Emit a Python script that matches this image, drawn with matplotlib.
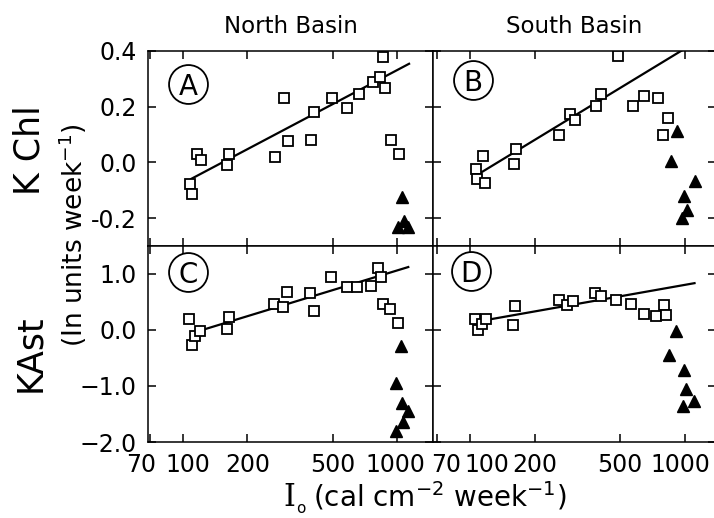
import matplotlib
matplotlib.use("Agg")
import matplotlib.pyplot as plt
import matplotlib.transforms as mtransforms
from matplotlib.ticker import NullLocator

plt.rcParams['font.family'] = ['DejaVu Sans']

# x axis: incident light, log scale
x_ticks = [70, 100, 200, 500, 1000]
x_tick_labels = ["70", "100", "200", "500", "1000"]

# K Chl, North Basin (A)
a_sq_x = [108, 110, 116, 121, 161, 164.5, 269, 297, 308, 395, 410, 495, 586, 664, 769, 833, 880, 864, 935, 1026]
a_sq_y = [-0.076, -0.114, 0.031, 0.008, -0.010, 0.031, 0.020, 0.233, 0.076, 0.082, 0.181, 0.233, 0.195, 0.246,
          0.290, 0.306, 0.267, 0.380, 0.082, 0.032]
a_tri_x = [1052, 1014, 1082, 1129]
a_tri_y = [-0.123, -0.233, -0.210, -0.233]
a_fit_x = [108, 1150]
a_fit_y = [-0.061, 0.356]

# K Chl, South Basin (B)
b_sq_x = [107, 108, 115, 117, 161, 164, 261, 293, 307, 388, 408, 488, 573, 645, 750, 835, 795]
b_sq_y = [-0.023, -0.058, 0.023, -0.073, -0.004, 0.049, 0.098, 0.175, 0.154, 0.201, 0.244, 0.382, 0.201, 0.238,
          0.231, 0.160, 0.098]
b_tri_x = [925, 861, 1119, 995, 1021, 972]
b_tri_y = [0.112, 0.005, -0.067, -0.120, -0.170, -0.201]
b_fit_x = [111, 985]
b_fit_y = [-0.039, 0.405]

# KAst, North Basin (C)
c_sq_x = [107, 110, 114, 120, 160, 164.5, 267, 292, 306, 392, 410, 491, 582, 652, 752, 816, 842, 864, 922, 1015]
c_sq_y = [0.198, -0.270, -0.114, -0.024, 0.018, 0.228, 0.456, 0.414, 0.679, 0.661, 0.348, 0.950, 0.762, 0.762,
          0.787, 1.110, 0.942, 0.468, 0.378, 0.126]
c_tri_x = [1040, 990, 1055, 1122, 1069, 985]
c_tri_y = [-0.294, -0.955, -1.30, -1.45, -1.65, -1.81]
c_fit_x = [120, 1141]
c_fit_y = [-0.012, 1.13]

# KAst, South Basin (D)
d_sq_x = [105.5, 108.6, 113.4, 119, 162, 159, 260, 284, 303, 384, 409, 478, 563, 645, 733, 802, 823]
d_sq_y = [0.198, 0.005, 0.108, 0.198, 0.427, 0.095, 0.540, 0.438, 0.517, 0.667, 0.607, 0.540, 0.468, 0.288,
          0.258, 0.438, 0.276]
d_tri_x = [912, 849, 995, 1014, 1109, 978]
d_tri_y = [-0.012, -0.445, -0.72, -1.05, -1.26, -1.36]
d_fit_x = [119.6, 1125]
d_fit_y = [0.18, 0.84]

chl_ticks = [-0.2, 0.0, 0.2, 0.4]
chl_tick_labels = ["-0.2", "0.0", "0.2", "0.4"]
ast_ticks = [-2.0, -1.0, 0.0, 1.0]
ast_tick_labels = ["\u22122.0", "\u22121.0", "0.0", "1.0"]

W, H = 714, 518
fig = plt.figure(figsize=(W / 100, H / 100), dpi=100)


def add_panel(x0, y0, x1, y1):
    """Axes placed with pixel edges measured from top-left."""
    return fig.add_axes([x0 / W, 1 - y1 / H, (x1 - x0) / W, (y1 - y0) / H])


def draw_panel(ax, sq_x, sq_y, tri_x, tri_y, fit_x, fit_y, letter, lx, ly):
    ax.plot(fit_x, fit_y, color='black', lw=1.6, solid_capstyle='butt', zorder=2)
    ax.plot(sq_x, sq_y, 's', ms=7.4, mfc='white', mec='black', mew=1.3, zorder=3)
    ax.plot(tri_x, tri_y, '^', ms=8, color='black', zorder=3)
    ax.plot([lx], [ly], 'o', ms=28, mfc='white', mec='black', mew=1.3, transform=ax.transAxes, zorder=4)
    ax.text(lx, ly, letter, transform=ax.transAxes, ha='center', va='center_baseline', fontsize=20, zorder=5)
    ax.set_xscale('log')
    ax.set_xticks(x_ticks)
    ax.set_xticklabels(x_tick_labels)
    ax.xaxis.set_minor_locator(NullLocator())
    ax.tick_params(direction='in', length=6, width=1.1, top=True, right=True, labelsize=17, pad=8)
    for s in ax.spines.values():
        s.set_linewidth(1.1)


axA = add_panel(148, 51, 433, 246)
axB = add_panel(433, 51, 716, 246)
axC = add_panel(148, 246, 433, 442)
axD = add_panel(433, 246, 716, 442)

draw_panel(axA, a_sq_x, a_sq_y, a_tri_x, a_tri_y, a_fit_x, a_fit_y, "A", 0.140, 0.831)
draw_panel(axB, b_sq_x, b_sq_y, b_tri_x, b_tri_y, b_fit_x, b_fit_y, "B", 0.142, 0.851)
draw_panel(axC, c_sq_x, c_sq_y, c_tri_x, c_tri_y, c_fit_x, c_fit_y, "C", 0.140, 0.867)
draw_panel(axD, d_sq_x, d_sq_y, d_tri_x, d_tri_y, d_fit_x, d_fit_y, "D", 0.135, 0.872)

for ax in (axA, axC):
    ax.set_xlim(68.6, 1472)
for ax in (axB, axD):
    ax.set_xlim(67.2, 1400)
for ax in (axA, axB):
    ax.set_ylim(-0.3, 0.4)
    ax.set_yticks(chl_ticks)
    ax.tick_params(labelbottom=False)
for ax in (axC, axD):
    ax.set_ylim(-2.0, 1.5)
    ax.set_yticks(ast_ticks)
axA.set_yticklabels(chl_tick_labels)
axC.set_yticklabels(ast_tick_labels)
for ax in (axB, axD):
    ax.tick_params(labelleft=False)

# nudge the crowded x tick labels like the printed figure
shifts = {axC: [-9, 5, 0, 0, -2], axD: [9, 17, 0, 0, -4]}
for ax, dx in shifts.items():
    for lab, d in zip(ax.get_xticklabels(), dx):
        lab.set_transform(lab.get_transform() + mtransforms.ScaledTranslation(d / 100, 0, fig.dpi_scale_trans))

axA.set_title("North Basin", fontsize=16.5, pad=13)
axB.set_title("South Basin", fontsize=16.5, pad=13)

fig.text(29 / W, 1 - 150 / H, "K Chl", rotation=90, ha='center', va='center', fontsize=25)
fig.text(30 / W, 1 - 353 / H, "KAst", rotation=90, ha='center', va='center', fontsize=25)
fig.text(73 / W, 1 - 235 / H, "(In units week$^{-1}$)", rotation=90, ha='center', va='center', fontsize=19)

fig.text(283 / W, 1 - 506 / H, "I", family='DejaVu Serif', fontsize=22, ha='left', va='baseline')
fig.text(296 / W, 1 - 516 / H, "o", fontsize=11, ha='left', va='bottom')
fig.text(313 / W, 1 - 506 / H, "(cal cm$^{-2}$ week$^{-1}$)", fontsize=20, ha='left', va='baseline')

fig.savefig("out.png", dpi=100)
